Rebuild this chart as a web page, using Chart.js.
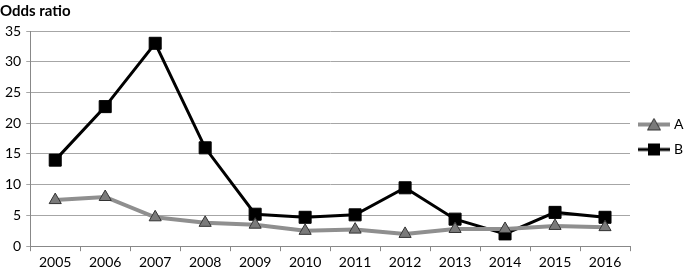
<!DOCTYPE html>
<html>
<head>
<meta charset="utf-8">
<script src="https://cdn.jsdelivr.net/npm/chart.js@4"></script>
<style>
  html, body { margin: 0; padding: 0; background: #fff; }
  #wrap { width: 685px; height: 274px; position: relative; }
</style>
</head>
<body>
<div id="wrap"><canvas id="myChart"></canvas></div>
<script>
// data
const years = ["2005", "2006", "2007", "2008", "2009", "2010", "2011", "2012", "2013", "2014", "2015", "2016"];
const seriesA = [7.5, 8.0, 4.7, 3.8, 3.5, 2.5, 2.7, 2.0, 2.8, 2.8, 3.3, 3.1];
const seriesB = [14.0, 22.7, 33.0, 16.0, 5.2, 4.7, 5.1, 9.5, 4.4, 2.0, 5.5, 4.7];
const yTicks = [0, 5, 10, 15, 20, 25, 30, 35];

const grayLine = "#8f8f8f";
const fontFam = "Lato, 'Open Sans', sans-serif";

// little legend swatch: line with the marker in the middle
const makeSwatch = (color, marker) => {
  const c = document.createElement("canvas");
  c.width = 32; c.height = 14;
  const ctx = c.getContext("2d");
  ctx.strokeStyle = color;
  ctx.lineWidth = marker === "triangle" ? 4 : 3;
  ctx.beginPath();
  ctx.moveTo(0, 7); ctx.lineTo(32, 7);
  ctx.stroke();
  if (marker === "triangle") {
    ctx.fillStyle = "#7a7a7a";
    ctx.strokeStyle = "#333";
    ctx.lineWidth = 1;
    ctx.beginPath();
    ctx.moveTo(16, 1); ctx.lineTo(22.5, 12.5); ctx.lineTo(9.5, 12.5); ctx.closePath();
    ctx.fill(); ctx.stroke();
  } else {
    ctx.fillStyle = "#000";
    ctx.fillRect(10, 1, 12, 12);
  }
  return c;
};

const swatchA = makeSwatch(grayLine, "triangle");
const swatchB = makeSwatch("#000", "rect");

// keep the legend column at a fixed width like the original
const legendWidth = {
  id: "legendWidth",
  afterInit(chart) {
    const lg = chart.legend;
    const origFit = lg.fit;
    lg.fit = function () {
      origFit.call(this);
      this.width = 55;
    };
  }
};

const config = {
  type: "line",
  data: {
    labels: years,
    datasets: [
      {
        label: "A",
        data: seriesA,
        borderColor: grayLine,
        borderWidth: 4,
        pointStyle: "triangle",
        pointRadius: 7,
        pointBackgroundColor: "#7a7a7a",
        pointBorderColor: "#333",
        pointBorderWidth: 1,
        tension: 0
      },
      {
        label: "B",
        data: seriesB,
        borderColor: "#000",
        borderWidth: 3,
        pointStyle: "rect",
        pointRadius: 8.5,
        pointBackgroundColor: "#000",
        pointBorderColor: "#000",
        pointBorderWidth: 1,
        tension: 0
      }
    ]
  },
  options: {
    responsive: true,
    maintainAspectRatio: false,
    animation: false,
    layout: { padding: { left: 0, right: 0, top: 0, bottom: 0 } },
    plugins: {
      title: {
        display: true,
        text: "Odds ratio",
        align: "start",
        color: "#000",
        font: { family: fontFam, size: 15, weight: "bold" },
        padding: { top: 2, bottom: 11 }
      },
      legend: {
        position: "right",
        labels: {
          usePointStyle: true,
          pointStyleWidth: 26,
          color: "#000",
          font: { family: fontFam, size: 14 },
          padding: 11,
          generateLabels: (chart) => [
            { text: "A", pointStyle: swatchA, datasetIndex: 0, fontColor: "#000", lineWidth: 0 },
            { text: "B", pointStyle: swatchB, datasetIndex: 1, fontColor: "#000", lineWidth: 0 }
          ]
        }
      },
      tooltip: { enabled: false }
    },
    scales: {
      x: {
        offset: true,
        grid: {
          offset: true,
          drawOnChartArea: false,
          drawTicks: true,
          tickLength: 5,
          color: "#888"
        },
        border: { display: true, color: "#888" },
        ticks: { color: "#000", font: { family: fontFam, size: 14 }, padding: 3 }
      },
      y: {
        min: 0,
        max: 35,
        afterBuildTicks: (axis) => { axis.ticks = yTicks.map(v => ({ value: v })); },
        grid: { color: "#a6a6a6", tickLength: 4 },
        border: { display: true, color: "#888" },
        ticks: { color: "#000", font: { family: fontFam, size: 14 }, padding: 5 }
      }
    }
  },
  plugins: [legendWidth]
};

new Chart(document.querySelector("#myChart"), config);
</script>
</body>
</html>
